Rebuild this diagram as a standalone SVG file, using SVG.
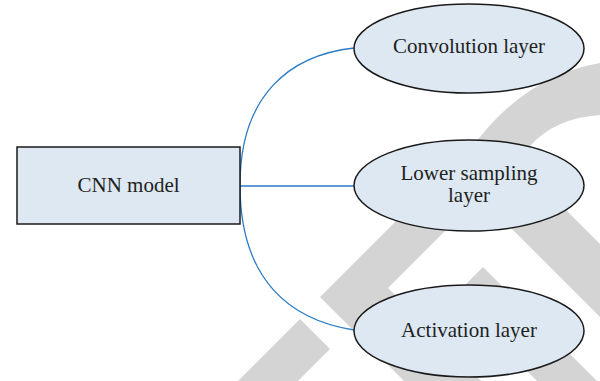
<svg xmlns="http://www.w3.org/2000/svg" width="600" height="381" viewBox="0 0 600 381">
  <style>
    .wm { fill: #d4d4d4; stroke: none; }
    .box { fill: #dde8f3; stroke: #1a1a1a; stroke-width: 1.5; }
    .lbl { font-family: "Liberation Serif", "Times New Roman", serif; font-size: 21px; fill: #231f20; text-anchor: middle; }
    .conn { fill: none; stroke: #2b7bc6; stroke-width: 1.3; }
  </style>
  <rect width="600" height="381" fill="#ffffff"/>
  <g id="watermark">
    <path class="wm" d="M320,297 L480,137 Q530,75 600,63 L600,115 Q555,118 530,146 L388,288 L481,381 L404,381 Z"/>
    <polygon class="wm" points="300,319 330,349 298,381 238,381"/>
    <polygon class="wm" points="500,217 540,184 600,244 600,317"/>
    <polygon class="wm" points="483,267 597,381 537,381 453,297"/>
  </g>
  <g id="connectors">
    <path class="conn" d="M240,185 C240,95 290,55 354,48"/>
    <path class="conn" d="M240,186 L354,186"/>
    <path class="conn" d="M240,185 C240,280 290,320 354,330"/>
  </g>
  <g id="cnn-model">
    <rect class="box" x="17" y="147" width="223" height="77"/>
    <text class="lbl" x="128.5" y="192">CNN model</text>
  </g>
  <g id="convolution-layer">
    <ellipse class="box" cx="469" cy="48.5" rx="115" ry="44.5"/>
    <text class="lbl" x="469" y="53">Convolution layer</text>
  </g>
  <g id="lower-sampling-layer">
    <ellipse class="box" cx="469" cy="185.5" rx="115" ry="45.5"/>
    <text class="lbl" x="469" y="180">Lower sampling</text>
    <text class="lbl" x="469" y="202">layer</text>
  </g>
  <g id="activation-layer">
    <ellipse class="box" cx="469" cy="331" rx="115" ry="46"/>
    <text class="lbl" x="469" y="337">Activation layer</text>
  </g>
</svg>
